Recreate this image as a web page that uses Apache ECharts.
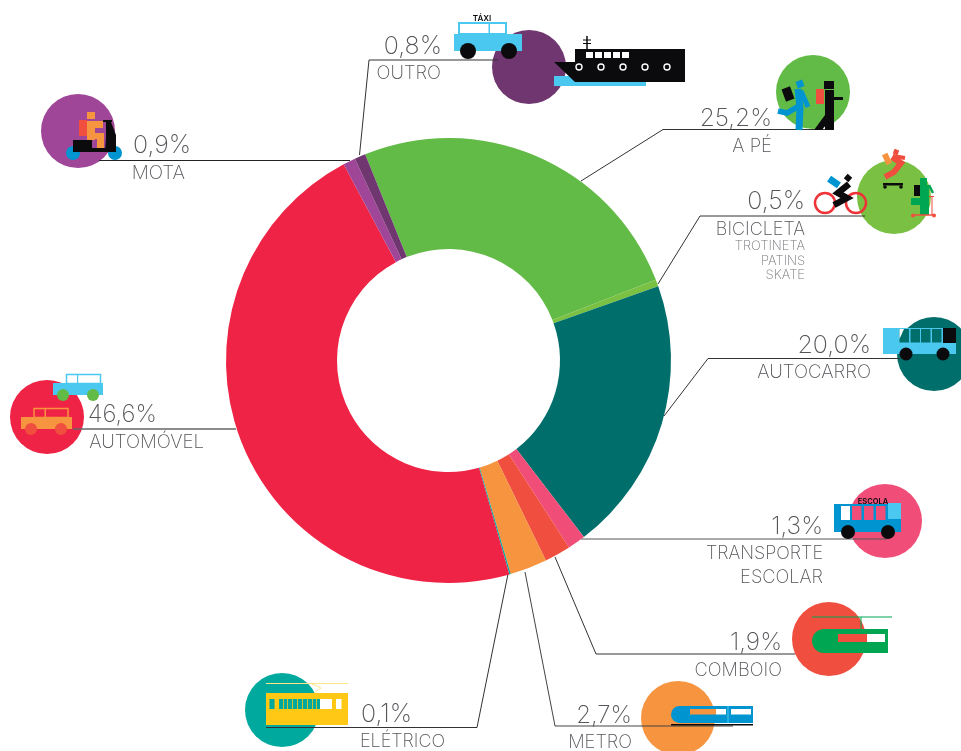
<!DOCTYPE html>
<html>
<head>
<meta charset="utf-8">
<title>Modos de transporte</title>
<script src="https://cdn.jsdelivr.net/npm/echarts@6/dist/echarts.min.js"></script>
<style>
html, body { margin: 0; padding: 0; background: #fff; }
#container { width: 961px; height: 751px; }
</style>
</head>
<body>
<div id="container"></div>
<script>
// clockwise from the top of the ring
let categories = ['A PÉ', 'BICICLETA', 'AUTOCARRO', 'TRANSPORTE ESCOLAR', 'COMBOIO', 'METRO', 'ELÉTRICO', 'AUTOMÓVEL', 'MOTA', 'OUTRO'];
let shares = [25.2, 0.5, 20.0, 1.3, 1.9, 2.7, 0.1, 46.6, 0.9, 0.8];
let colors = ['#62bb46', '#7ac143', '#006e6b', '#f04e78', '#f04e3e', '#f7943f', '#00a99d', '#ef2345', '#a04698', '#6f3670'];

const BLACK = '#0b0b0d', SKY = '#4ac8f0', BLUE = '#0095d0', GREEN = '#00a651', RED = '#f04e3e', ORANGE = '#f7943f', YELLOW = '#ffc815';
const FONT = 'Inter, Lato, sans-serif';
const TEXT = '#55555a';

let chart = echarts.init(document.getElementById('container'), null, {renderer: 'canvas'});
let els = [];

function rect(x, y, w, h, fill, stroke, lw) {
    els.push({type: 'rect', silent: true, shape: {x: x, y: y, width: w, height: h},
        style: {fill: fill || 'none', stroke: stroke || null, lineWidth: lw || 0}});
}
function rrect(cx, cy, w, h, deg, fill) {
    els.push({type: 'rect', silent: true, x: cx, y: cy, rotation: -deg * Math.PI / 180,
        shape: {x: -w / 2, y: -h / 2, width: w, height: h}, style: {fill: fill}});
}
function round(x, y, w, h, r, fill) {
    els.push({type: 'rect', silent: true, shape: {x: x, y: y, width: w, height: h, r: r}, style: {fill: fill}});
}
function dot(cx, cy, r, fill, stroke, lw) {
    els.push({type: 'circle', silent: true, shape: {cx: cx, cy: cy, r: r},
        style: {fill: fill || 'none', stroke: stroke || null, lineWidth: lw || 0}});
}
function poly(points, fill) {
    els.push({type: 'polygon', silent: true, shape: {points: points}, style: {fill: fill}});
}
function line(points, color, lw) {
    els.push({type: 'polyline', silent: true, shape: {points: points},
        style: {fill: 'none', stroke: color || '#333', lineWidth: lw || 1, lineJoin: 'miter'}});
}
function label(str, x, base, size, align, color, weight) {
    els.push({type: 'text', silent: true, style: {text: str, x: x, y: base - size * 0.3, font: (weight || 200) + ' ' + size + 'px ' + FONT,
        fill: color || TEXT, textAlign: align || 'right', textVerticalAlign: 'middle'}});
}
function pct(i) {
    return shares[i].toFixed(1).replace('.', ',') + '%';
}

// OUTRO
dot(529, 67, 37, colors[9]);
line([[359.5, 155], [369, 60], [498, 60]], '#333', 1);
rect(459, 23, 47, 11, '#fff', SKY, 2);
rect(488.5, 23, 1.5, 11, SKY);
rect(454, 34, 68, 17, SKY);
dot(468, 51, 8, BLACK);
dot(509, 51, 8, BLACK);
label('TÁXI', 482, 21, 8, 'center', BLACK, 600);
rect(554, 76, 92, 10, SKY);
poly([[575, 49], [685, 49], [685, 82], [575, 82], [554, 62], [575, 62]], BLACK);
line([[587, 36], [587, 49]], BLACK, 1.5);
line([[583, 40], [591, 40]], BLACK, 1);
line([[583, 43.5], [591, 43.5]], BLACK, 1);
[586, 595, 604, 613, 622].forEach(x => rect(x, 52, 7, 6, '#fff'));
[579, 601, 623, 645, 667].forEach(x => dot(x, 67, 3, BLACK, '#fff', 1.4));
label(pct(9), 442, 54, 25, 'right');
label(categories[9], 441, 79, 18.5, 'right');

// A PÉ
dot(813, 92, 37, colors[0]);
line([[581, 181], [663, 129.5], [833, 129.5]], '#333', 1);
rrect(788, 94, 9, 13, -20, BLACK);
rrect(800, 84, 7, 7, -20, BLUE);
line([[798, 89], [800, 108], [799, 130]], BLUE, 7);
line([[801, 91], [808, 107]], BLUE, 5);
line([[778, 111], [787, 113], [799, 106]], BLUE, 5.5);
rect(816, 89, 8, 15, RED);
rect(824, 81, 10, 8, BLACK);
rect(825, 90, 9, 40, BLACK);
poly([[825, 115], [814, 130], [822, 130], [831, 118]], BLACK);
rect(833, 97, 10, 3, BLACK);
label(pct(0), 772, 126, 24.5, 'right');
label(categories[0], 772, 152, 18.5, 'right');

// BICICLETA
dot(894, 197, 37, colors[1]);
line([[658, 284], [700, 216], [865, 216]], '#333', 1);
dot(825, 203, 10, 'none', '#ee3338', 2.5);
dot(856, 203, 10, 'none', '#ee3338', 2.5);
rrect(834, 182, 12, 7, 35, BLUE);
rrect(848, 178, 6, 6, 40, BLACK);
line([[849, 184], [838, 193], [847, 198], [834, 205]], BLACK, 6.5);
rrect(887, 159, 6, 11, -25, ORANGE);
rrect(896, 152, 5, 5, 20, RED);
line([[892, 157], [901, 163], [894, 172], [885, 177]], RED, 6);
line([[893, 156], [905, 158]], RED, 4);
rect(883, 183, 20, 2.5, BLACK);
dot(885, 187, 1.8, BLACK);
dot(901, 187, 1.8, BLACK);
rect(914, 185, 6, 11, BLACK);
rect(920, 178, 7, 7, GREEN);
rect(920, 185, 9, 30, GREEN);
rect(911, 198, 12, 7, GREEN);
line([[929, 185], [933, 193]], GREEN, 2.5);
line([[912, 215], [935, 215]], RED, 1.5);
line([[932, 196], [932, 215]], RED, 1);
line([[929, 196.5], [934, 196.5]], RED, 1);
dot(913, 215.5, 2, RED);
dot(934, 215.5, 2, RED);
label(pct(1), 805, 209, 25, 'right');
label(categories[1], 805, 235, 18, 'right');
label('TROTINETA', 805, 250, 13, 'right', '#77777c');
label('PATINS', 805, 265, 13, 'right', '#77777c');
label('SKATE', 805, 279, 13, 'right', '#77777c');

// AUTOCARRO
dot(934, 354, 37, colors[2]);
line([[664, 416], [708, 358.5], [900, 358.5]], '#333', 1);
rect(883, 328, 73, 26, SKY);
[899.5, 910.5, 921, 932].forEach(x => rect(x, 329, 9.5, 13.5, colors[2]));
poly([[899.5, 339], [904, 329], [899.5, 329]], '#fff');
rect(943, 328, 13, 15, BLACK);
dot(906, 354, 6.5, BLACK);
dot(943, 354, 6.5, BLACK);
label(pct(2), 871, 353, 25, 'right');
label(categories[2], 871, 378, 18.7, 'right');

// TRANSPORTE ESCOLAR
dot(885, 521, 37, colors[3]);
line([[581, 539], [887, 539]], '#555', 1.2);
rect(834, 504, 67, 28, BLUE);
rect(841, 506, 9, 14, '#fff');
[852, 864, 876].forEach(x => rect(x, 506, 9.5, 14, colors[3]));
rect(888, 503, 13, 16, SKY);
dot(848, 532, 7, BLACK);
dot(888, 532, 7, BLACK);
label('ESCOLA', 873, 503.5, 7.5, 'center', BLACK, 600);
label(pct(3), 823, 534, 24.5, 'right');
label('TRANSPORTE', 823, 559, 18, 'right');
label('ESCOLAR', 823, 583, 18.3, 'right');

// COMBOIO
dot(829, 639, 37, colors[4]);
line([[555, 557], [596, 654], [795, 654]], '#333', 1);
line([[812, 617], [892, 617]], GREEN, 1.2);
line([[861, 617], [861, 629]], GREEN, 1);
round(812, 629, 76, 24, [12, 0, 0, 12], GREEN);
rect(838, 634, 29, 8, RED);
rect(867, 634, 18, 8, '#fff');
label(pct(4), 782, 650, 24.5, 'right');
label(categories[4], 782, 676, 18.3, 'right');

// METRO
dot(678, 718, 37, colors[5]);
line([[525, 572], [555, 726], [733, 726]], '#444', 1);
round(671, 706, 82, 17, [8.5, 0, 0, 8.5], BLUE);
rect(690, 709, 26, 5.5, ORANGE);
rect(716, 709, 10, 5.5, '#fff');
rect(731, 709, 20, 5.5, '#fff');
rect(727.5, 706, 1, 17, SKY);
rect(671, 724, 82, 1.5, BLACK);
label(pct(5), 632, 723, 24, 'right');
label(categories[5], 632, 748, 18.3, 'right');

// ELÉTRICO
dot(282, 710, 37, colors[6]);
line([[508, 574], [477, 727.5], [266, 727.5]], '#333', 1);
line([[266, 683.5], [348, 683.5]], '#ffe48a', 1);
line([[311, 683.5], [321, 688], [314, 693]], '#ffe48a', 1);
rect(266, 693, 82, 32, YELLOW);
rect(269.5, 699, 5, 10, colors[6]);
rect(279, 699, 41, 10, colors[6]);
[283, 287, 292, 297, 302, 307, 312, 316].forEach(x => rect(x, 699, 0.8, 10, YELLOW));
rect(320, 699, 12, 10, '#fff');
rect(336, 699, 5.5, 10, '#fff');
label(pct(6), 412, 722, 25, 'right');
label(categories[6], 445, 747, 18, 'right');

// AUTOMÓVEL
dot(47, 417, 37, colors[7]);
line([[73, 429], [236, 429]], '#666', 1.4);
rect(66.5, 374.5, 34, 9, '#fff', SKY, 1.5);
rect(77, 374, 1.2, 9, SKY);
rect(53, 383, 50, 12, SKY);
dot(63, 395, 6, colors[0]);
dot(93, 395, 6, colors[0]);
rect(34, 408.5, 34, 9, 'none', ORANGE, 1.5);
rect(44.5, 408, 1.5, 9, ORANGE);
rect(21, 417, 51, 12, ORANGE);
dot(31, 429, 6, RED);
dot(61, 429, 6, RED);
label(pct(7), 157, 422, 24, 'right');
label(categories[7], 204, 448, 18.7, 'right');

// MOTA
dot(78, 131, 37, colors[8]);
line([[99, 160.5], [350, 160.5]], '#222', 1);
dot(73, 153, 7, BLUE);
dot(115, 153, 7, BLUE);
rect(79, 120, 8, 16, RED);
rect(87, 112, 8, 7, ORANGE);
rect(87, 121, 8, 19, ORANGE);
rect(95, 121, 8, 7, ORANGE);
rect(95, 133, 9, 6, ORANGE);
rect(97, 139, 7, 9, ORANGE);
rect(73, 140, 19, 12, BLACK);
rect(92, 148, 23, 4, BLACK);
poly([[106, 122], [111, 122], [116, 135], [116, 152], [105, 152], [106, 137]], BLACK);
rect(103, 120, 9, 2, BLACK);
label(pct(8), 191, 153, 25, 'right');
label(categories[8], 185, 179, 19, 'right');

let option = {
    animation: false,
    backgroundColor: '#fff',
    graphic: {elements: els},
    series: [{
        type: 'pie',
        silent: true,
        radius: [111.5, 222.5],
        center: [448.5, 360.5],
        startAngle: 112,
        clockwise: true,
        minAngle: 0,
        avoidLabelOverlap: false,
        label: {show: false},
        labelLine: {show: false},
        itemStyle: {borderWidth: 0},
        data: categories.map((name, i) => ({name: name, value: shares[i], itemStyle: {color: colors[i]}})),
    }],
};
chart.setOption(option);
</script>
</body>
</html>
